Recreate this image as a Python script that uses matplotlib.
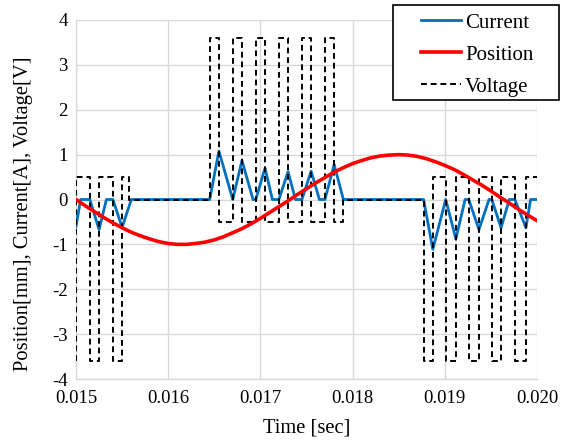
import matplotlib
matplotlib.use('Agg')
import matplotlib.pyplot as plt
from matplotlib.patches import Rectangle

plt.rcParams['font.family'] = ['Liberation Serif', 'DejaVu Serif']
plt.rcParams['axes.unicode_minus'] = False

# 데이터
cur_t = [0.015, 0.01505, 0.01515, 0.01525, 0.01533, 0.0154, 0.0155, 0.0156,
         0.01645, 0.01655, 0.0167, 0.0168, 0.01692, 0.01695, 0.01705, 0.01713,
         0.0172, 0.0173, 0.01738, 0.01745, 0.01755, 0.01764, 0.0177, 0.0178,
         0.0179, 0.01877, 0.01887, 0.01901, 0.01912, 0.01922, 0.01926, 0.01937,
         0.01948, 0.01951, 0.01961, 0.0197, 0.01976, 0.01988, 0.01993, 0.020]
cur_v = [-0.6, 0, 0, -0.67, 0, 0, -0.62, 0,
         0, 1.08, 0, 0.87, 0, 0, 0.70, 0,
         0, 0.62, 0, 0, 0.63, 0, 0, 0.78,
         0, 0, -1.11, 0, -0.88, 0, 0, -0.67,
         0, 0, -0.63, 0, 0, -0.63, 0, 0]

pos_t = [0.015 + 0.0001 * k for k in range(51)]
pos_v = [0.00, -0.14, -0.27, -0.40, -0.52, -0.63, -0.73, -0.81, -0.88, -0.94,
         -0.98, -1.00, -1.00, -0.98, -0.95, -0.90, -0.83, -0.74, -0.65, -0.54,
         -0.42, -0.29, -0.16, -0.03, 0.11, 0.24, 0.37, 0.49, 0.61, 0.71,
         0.80, 0.87, 0.93, 0.97, 0.99, 1.00, 0.99, 0.96, 0.91, 0.84,
         0.76, 0.67, 0.56, 0.44, 0.32, 0.19, 0.05, -0.08, -0.22, -0.35,
         -0.47]

volt_t = [0.015, 0.015, 0.01515, 0.01525, 0.0154, 0.0155, 0.01558,
          0.01645, 0.01655, 0.0167, 0.0168, 0.01695, 0.01705, 0.0172, 0.0173,
          0.01745, 0.01755, 0.0177, 0.0178, 0.0179,
          0.01877, 0.01887, 0.01901, 0.01912, 0.01926, 0.01937, 0.01951,
          0.01961, 0.01976, 0.01988, 0.020]
volt_v = [-3.6, 0.5, -3.6, 0.5, -3.6, 0.5, 0,
          3.6, -0.5, 3.6, -0.5, 3.6, -0.5, 3.6, -0.5,
          3.6, -0.5, 3.6, -0.5, 0,
          -3.6, 0.5, -3.6, 0.5, -3.6, 0.5, -3.6,
          0.5, -3.6, 0.5, 0.5]

xticks = [0.015, 0.016, 0.017, 0.018, 0.019, 0.020]
yticks = [-4, -3, -2, -1, 0, 1, 2, 3, 4]

W, H = 563, 441
fig = plt.figure(figsize=(W / 100, H / 100), dpi=100)
ax = fig.add_axes([76 / W, 1 - 379 / H, 461 / W, 359 / H])

ax.plot(cur_t, cur_v, color='#0070C0', lw=2, label='Current', zorder=3)
ax.plot(pos_t, pos_v, color='#FF0000', lw=2.6, label='Position', zorder=5)
ax.plot(volt_t, volt_v, color='black', lw=1.4, ls=(0, (3, 2)),
        drawstyle='steps-post', label='Voltage', zorder=4)

ax.set_xlim(0.015, 0.020)
ax.set_ylim(-4, 4)
ax.set_xticks(xticks)
ax.set_xticklabels(['%.3f' % x for x in xticks])
ax.set_yticks(yticks)
ax.set_yticklabels([str(y) for y in yticks])
ax.tick_params(length=0, labelsize=13.5)
ax.tick_params(axis='x', pad=8)
ax.tick_params(axis='y', pad=6)
ax.grid(True, color='#d9d9d9', lw=1)
ax.set_axisbelow(True)
for s in ['top', 'right']:
    ax.spines[s].set_visible(False)
for s in ['left', 'bottom']:
    ax.spines[s].set_color('#d9d9d9')
    ax.spines[s].set_linewidth(1)

ax.set_xlabel('Time [sec]', fontsize=14.8, labelpad=8)
ax.set_ylabel('Position[mm], Current[A], Voltage[V]', fontsize=14.8)
ax.yaxis.set_label_coords(-0.093, 0.46)

# 범례 박스
box = Rectangle((393 / W, 1 - 100 / H), 166 / W, 95 / H, transform=fig.transFigure,
                facecolor='white', edgecolor='black', lw=1.2, zorder=5)
fig.add_artist(box)

handles, labels = ax.get_legend_handles_labels()
leg = fig.legend(handles, labels, loc='upper left', bbox_to_anchor=(421 / W, 1 - 13 / H),
                 fontsize=15, frameon=False, handlelength=1.92, handletextpad=0.2,
                 borderpad=0, labelspacing=0.6, borderaxespad=0)
leg.set_zorder(6)

plt.savefig('out.png', dpi=100)
